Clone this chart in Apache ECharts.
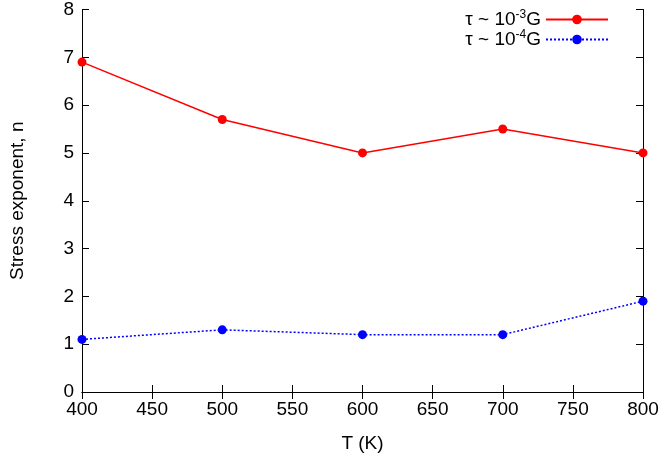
<!DOCTYPE html>
<html><head><meta charset="utf-8">
<script src="https://cdn.jsdelivr.net/npm/echarts@6/dist/echarts.min.js"></script>
<style>html,body{margin:0;padding:0;background:#fff}#c{width:664px;height:463px}</style>
</head><body><div id="c"></div>
<script>
const temps = [400, 500, 600, 700, 800];
const n3 = [6.9, 5.7, 5.0, 5.5, 5.0];
const n4 = [1.1, 1.3, 1.2, 1.2, 1.9];
const xTicks = [400, 450, 500, 550, 600, 650, 700, 750, 800];
const yTicks = [0, 1, 2, 3, 4, 5, 6, 7, 8];
const nm3 = 'τ ~ 10-3G', nm4 = 'τ ~ 10-4G';
const chart = echarts.init(document.getElementById('c'));
const F = 'Liberation Sans';
const ax = {
  axisLine: {show: true, lineStyle: {color: '#000', width: 1}},
  axisTick: {inside: true, length: 7, lineStyle: {color: '#000'}},
  splitLine: {show: false},
  axisLabel: {color: '#000', fontSize: 19, fontFamily: F}
};
chart.setOption({
  animation: false,
  grid: {left: 77, right: 21, top: 9, bottom: 71},
  legend: {
    right: 50, top: 4, orient: 'vertical', align: 'right', itemGap: 0,
    itemWidth: 62, itemHeight: 12,
    textStyle: {fontSize: 19, color: '#000', fontFamily: F,
      rich: {s: {fontSize: 12, fontFamily: F, verticalAlign: 'top', padding: [0,0,9,0]}, n: {fontSize: 19, fontFamily: F}}},
    formatter: function(name){ return name === nm3 ? '{n|τ ~ 10}{s|-3}{n|G}' : '{n|τ ~ 10}{s|-4}{n|G}'; },
    data: [nm3, nm4]
  },
  xAxis: [
    Object.assign({}, ax, {type: 'value', min: 400, max: 800, interval: 50, name: 'T (K)', nameLocation: 'middle', nameGap: 42,
      nameTextStyle: {fontSize: 19, color: '#000', fontFamily: F}}),
    Object.assign({}, ax, {type: 'value', position: 'top', min: 400, max: 800, interval: 50, axisLabel: {show: false}})
  ],
  yAxis: [
    Object.assign({}, ax, {type: 'value', min: 0, max: 8, interval: 1, name: 'Stress exponent, n', nameLocation: 'middle', nameGap: 55,
      nameTextStyle: {fontSize: 19, color: '#000', fontFamily: F}}),
    Object.assign({}, ax, {type: 'value', position: 'right', min: 0, max: 8, interval: 1, axisLabel: {show: false}})
  ],
  series: [
    {name: nm3, type: 'line', data: temps.map((t,i)=>[t, n3[i]]), color: '#ff0000',
      symbol: 'circle', symbolSize: 9, lineStyle: {width: 1.5, color: '#ff0000'}, itemStyle: {color: '#ff0000'}},
    {name: nm4, type: 'line', data: temps.map((t,i)=>[t, n4[i]]), color: '#0000ff',
      symbol: 'circle', symbolSize: 9, lineStyle: {width: 1.5, type: [2,2], color: '#0000ff'}, itemStyle: {color: '#0000ff'}}
  ]
});
</script></body></html>
